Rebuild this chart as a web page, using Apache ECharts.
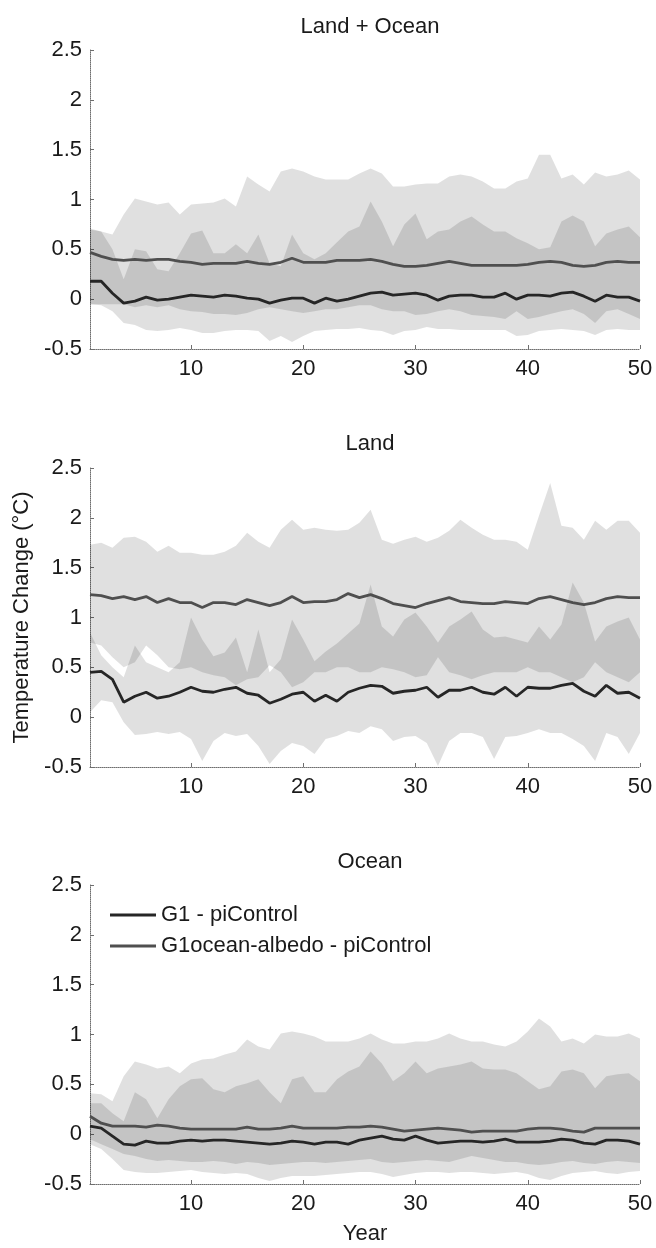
<!DOCTYPE html>
<html>
<head>
<meta charset="utf-8">
<script src="https://cdn.jsdelivr.net/npm/echarts@6/dist/echarts.min.js"></script>
<style>
html, body { margin: 0; padding: 0; background: #fff; }
#main { width: 656px; height: 1248px; }
</style>
</head>
<body>
<div id="main"></div>
<script>
// x positions (model year)
var years = [1,2,3,4,5,6,7,8,9,10,11,12,13,14,15,16,17,18,19,20,21,22,23,24,25,
             26,27,28,29,30,31,32,33,34,35,36,37,38,39,40,41,42,43,44,45,46,47,48,49,50];
var xTicks = [10, 20, 30, 40, 50];
var panelTitles = ['Land + Ocean', 'Land', 'Ocean'];
var seriesNames = ['G1 - piControl', 'G1ocean-albedo - piControl'];

// Land + Ocean
var p1G1 = [0.18,0.18,0.06,-0.04,-0.02,0.02,-0.01,0.00,0.02,0.04, 0.03,0.02,0.04,0.03,0.01,0.00,-0.04,-0.01,0.01,0.01,
            -0.04,0.01,-0.02,0.00,0.03,0.06,0.07,0.04,0.05,0.06, 0.04,-0.01,0.03,0.04,0.04,0.02,0.02,0.06,0.00,0.04,
            0.04,0.03,0.06,0.07,0.03,-0.02,0.04,0.02,0.02,-0.02];
var p1OA = [0.47,0.43,0.40,0.39,0.40,0.39,0.40,0.40,0.38,0.37, 0.35,0.36,0.36,0.36,0.38,0.36,0.35,0.37,0.41,0.37,
            0.37,0.37,0.39,0.39,0.39,0.40,0.38,0.35,0.33,0.33, 0.34,0.36,0.38,0.36,0.34,0.34,0.34,0.34,0.34,0.35,
            0.37,0.38,0.37,0.34,0.33,0.34,0.37,0.38,0.37,0.37];
var p1G1Lo = [-0.05,-0.06,-0.12,-0.24,-0.26,-0.31,-0.32,-0.31,-0.29,-0.31, -0.34,-0.34,-0.32,-0.31,-0.31,-0.32,-0.42,-0.37,-0.43,-0.37,
              -0.32,-0.31,-0.30,-0.30,-0.29,-0.31,-0.32,-0.36,-0.32,-0.31, -0.28,-0.30,-0.30,-0.31,-0.31,-0.31,-0.31,-0.31,-0.37,-0.36,
              -0.32,-0.31,-0.30,-0.31,-0.32,-0.36,-0.31,-0.30,-0.31,-0.31];
var p1G1Hi = [0.70,0.68,0.50,0.20,0.50,0.48,0.30,0.28,0.46,0.66, 0.69,0.46,0.46,0.55,0.46,0.65,0.36,0.33,0.65,0.46,
              0.40,0.46,0.57,0.68,0.73,0.98,0.78,0.53,0.75,0.86, 0.60,0.68,0.70,0.78,0.83,0.75,0.68,0.68,0.61,0.56,
              0.50,0.52,0.78,0.84,0.78,0.53,0.66,0.70,0.73,0.62];
var p1OALo = [-0.05,-0.05,-0.05,-0.05,-0.08,-0.06,-0.08,-0.06,-0.10,-0.12, -0.13,-0.15,-0.15,-0.16,-0.14,-0.10,-0.08,-0.10,-0.12,-0.14,
              -0.12,-0.10,-0.10,-0.08,-0.06,-0.06,-0.10,-0.12,-0.12,-0.16, -0.15,-0.12,-0.10,-0.12,-0.16,-0.17,-0.18,-0.20,-0.12,-0.20,
              -0.18,-0.15,-0.12,-0.10,-0.15,-0.24,-0.12,-0.10,-0.15,-0.20];
var p1OAHi = [0.71,0.68,0.65,0.85,1.01,0.98,0.95,0.97,0.85,0.95, 0.96,0.97,1.01,0.93,1.23,1.15,1.08,1.28,1.31,1.28,
              1.23,1.20,1.20,1.20,1.26,1.31,1.26,1.13,1.13,1.15, 1.16,1.16,1.23,1.25,1.23,1.18,1.11,1.11,1.18,1.21,
              1.45,1.45,1.21,1.25,1.15,1.27,1.23,1.25,1.29,1.20];

// Land
var p2G1 = [0.45,0.46,0.38,0.15,0.21,0.25,0.19,0.21,0.25,0.30, 0.26,0.25,0.28,0.30,0.24,0.22,0.14,0.18,0.23,0.25,
            0.16,0.22,0.16,0.25,0.29,0.32,0.31,0.24,0.26,0.27, 0.30,0.20,0.27,0.27,0.30,0.25,0.23,0.30,0.21,0.30,
            0.29,0.29,0.32,0.34,0.26,0.21,0.32,0.24,0.25,0.19];
var p2OA = [1.23,1.22,1.19,1.21,1.18,1.21,1.15,1.19,1.15,1.15, 1.10,1.15,1.15,1.13,1.18,1.15,1.12,1.15,1.21,1.15,
            1.16,1.16,1.18,1.24,1.20,1.23,1.19,1.14,1.12,1.10, 1.14,1.17,1.20,1.16,1.15,1.14,1.14,1.16,1.15,1.14,
            1.19,1.21,1.18,1.15,1.13,1.15,1.19,1.21,1.20,1.20];
var p2G1Lo = [0.05,0.17,0.15,-0.05,-0.18,-0.17,-0.15,-0.17,-0.15,-0.22, -0.44,-0.24,-0.16,-0.19,-0.17,-0.29,-0.47,-0.34,-0.26,-0.29,
              -0.37,-0.22,-0.19,-0.14,-0.16,-0.09,-0.12,-0.24,-0.20,-0.19, -0.26,-0.49,-0.24,-0.16,-0.16,-0.20,-0.42,-0.20,-0.19,-0.16,
              -0.12,-0.16,-0.16,-0.22,-0.29,-0.44,-0.16,-0.20,-0.37,-0.16];
var p2G1Hi = [0.85,0.62,0.50,0.40,0.72,0.55,0.50,0.45,0.55,1.00, 0.78,0.61,0.65,0.80,0.45,0.88,0.45,0.58,0.98,0.78,
              0.56,0.66,0.74,0.84,0.94,1.33,0.91,0.81,0.98,1.05, 0.91,0.75,0.91,0.98,1.06,0.88,0.80,0.81,0.78,0.75,
              0.91,0.78,0.93,1.35,1.15,0.76,0.91,0.96,1.00,0.78];
var p2OALo = [0.75,0.72,0.60,0.50,0.55,0.72,0.62,0.50,0.48,0.50, 0.45,0.42,0.40,0.32,0.38,0.40,0.52,0.45,0.30,0.35,
              0.45,0.45,0.50,0.50,0.45,0.45,0.50,0.48,0.45,0.40, 0.42,0.60,0.45,0.42,0.38,0.42,0.45,0.45,0.45,0.50,
              0.45,0.45,0.40,0.35,0.40,0.55,0.45,0.40,0.35,0.45];
var p2OAHi = [1.73,1.75,1.70,1.80,1.81,1.76,1.66,1.72,1.65,1.65, 1.63,1.63,1.66,1.72,1.85,1.76,1.70,1.88,1.98,1.88,
              1.90,1.88,1.87,1.88,1.95,2.08,1.78,1.74,1.78,1.81, 1.76,1.80,1.87,1.98,1.90,1.83,1.78,1.78,1.76,1.68,
              2.02,2.35,1.92,1.90,1.78,1.97,1.88,1.97,1.97,1.85];

// Ocean
var p3G1 = [0.08,0.06,-0.02,-0.10,-0.11,-0.07,-0.09,-0.09,-0.07,-0.06, -0.07,-0.06,-0.06,-0.07,-0.08,-0.09,-0.10,-0.09,-0.07,-0.08,
            -0.10,-0.08,-0.08,-0.10,-0.06,-0.04,-0.02,-0.05,-0.06,-0.02, -0.06,-0.09,-0.08,-0.07,-0.07,-0.08,-0.07,-0.05,-0.08,-0.08,
            -0.08,-0.07,-0.05,-0.06,-0.09,-0.10,-0.06,-0.06,-0.07,-0.10];
var p3OA = [0.18,0.11,0.08,0.08,0.08,0.07,0.09,0.08,0.06,0.05, 0.05,0.05,0.05,0.05,0.07,0.05,0.05,0.06,0.08,0.06,
            0.06,0.06,0.06,0.07,0.07,0.08,0.07,0.05,0.03,0.04, 0.05,0.06,0.05,0.04,0.02,0.03,0.03,0.03,0.03,0.05,
            0.06,0.06,0.05,0.03,0.02,0.06,0.06,0.06,0.06,0.06];
var p3G1Lo = [-0.10,-0.15,-0.25,-0.36,-0.38,-0.39,-0.39,-0.38,-0.37,-0.36, -0.38,-0.39,-0.40,-0.39,-0.40,-0.44,-0.47,-0.44,-0.42,-0.42,
              -0.42,-0.41,-0.40,-0.39,-0.38,-0.38,-0.40,-0.43,-0.41,-0.39, -0.38,-0.38,-0.39,-0.38,-0.38,-0.39,-0.40,-0.39,-0.38,-0.40,
              -0.44,-0.46,-0.42,-0.39,-0.38,-0.37,-0.39,-0.40,-0.38,-0.37];
var p3G1Hi = [0.31,0.31,0.21,0.13,0.42,0.35,0.16,0.35,0.48,0.55, 0.56,0.45,0.42,0.48,0.51,0.55,0.42,0.31,0.55,0.58,
              0.42,0.42,0.55,0.63,0.68,0.83,0.71,0.53,0.61,0.73, 0.61,0.66,0.68,0.70,0.73,0.66,0.65,0.65,0.61,0.53,
              0.45,0.48,0.63,0.65,0.61,0.46,0.58,0.60,0.61,0.53];
var p3OALo = [-0.05,-0.10,-0.15,-0.20,-0.22,-0.25,-0.27,-0.26,-0.27,-0.28, -0.28,-0.27,-0.28,-0.30,-0.28,-0.29,-0.31,-0.30,-0.29,-0.28,
              -0.28,-0.29,-0.28,-0.27,-0.26,-0.25,-0.28,-0.29,-0.28,-0.27, -0.26,-0.27,-0.28,-0.25,-0.22,-0.24,-0.26,-0.28,-0.28,-0.30,
              -0.31,-0.30,-0.28,-0.27,-0.29,-0.30,-0.28,-0.27,-0.28,-0.29];
var p3OAHi = [0.41,0.40,0.33,0.58,0.73,0.70,0.66,0.68,0.61,0.71, 0.75,0.76,0.80,0.83,0.95,0.88,0.85,1.01,1.03,1.01,
              0.98,0.93,0.93,0.93,0.96,1.01,0.95,0.91,0.91,0.93, 0.93,0.96,1.01,0.96,0.93,0.93,0.90,0.88,0.93,1.03,
              1.16,1.08,0.93,0.96,0.91,1.00,0.98,0.98,1.01,0.96];

var panels = [
    { g1: p1G1, oa: p1OA, g1Lo: p1G1Lo, g1Hi: p1G1Hi, oaLo: p1OALo, oaHi: p1OAHi },
    { g1: p2G1, oa: p2OA, g1Lo: p2G1Lo, g1Hi: p2G1Hi, oaLo: p2OALo, oaHi: p2OAHi },
    { g1: p3G1, oa: p3OA, g1Lo: p3G1Lo, g1Hi: p3G1Hi, oaLo: p3OALo, oaHi: p3OAHi }
];

var FONT = 'Liberation Sans';
var TXT = '#1a1a1a';
var AXC = '#6e6e6e';
var BAND = 'rgba(0,0,0,0.12)';
var gridTops = [50, 468, 885];
var titleTops = [11, 428, 846];

function pairs(vals) {
    var out = [];
    for (var i = 0; i < years.length; i++) out.push([years[i], vals[i]]);
    return out;
}
function rows(lo, hi) {
    var out = [];
    for (var i = 0; i < years.length; i++) out.push([years[i], lo[i], hi[i]]);
    return out;
}

// whole band drawn as one polygon, top edge then bottom edge back
function renderBand(params, api) {
    if (params.dataIndexInside !== 0) return;
    var n = params.dataInsideLength;
    var top = [], bot = [];
    for (var i = 0; i < n; i++) {
        var x = api.value(0, i);
        top.push(api.coord([x, api.value(2, i)]));
        bot.push(api.coord([x, api.value(1, i)]));
    }
    return {
        type: 'polygon',
        shape: { points: top.concat(bot.reverse()) },
        style: { fill: BAND }
    };
}

var myChart = echarts.init(document.getElementById('main'));

var grids = [], xAxes = [], yAxes = [], titles = [], series = [];

for (var p = 0; p < 3; p++) {
    var d = panels[p];
    grids.push({ left: 90, width: 550, top: gridTops[p], height: 299 });
    titles.push({
        text: panelTitles[p], left: 365, top: titleTops[p], textAlign: 'center',
        textStyle: { fontFamily: FONT, fontSize: 22, fontWeight: 'normal', color: TXT }
    });
    xAxes.push({
        type: 'value', gridIndex: p, min: 1, max: 50,
        name: p === 2 ? 'Year' : '', nameLocation: 'middle', nameGap: 39,
        nameTextStyle: { fontFamily: FONT, fontSize: 22, color: TXT },
        axisLine: { show: true, onZero: false, lineStyle: { color: AXC, type: 'dotted', width: 1 } },
        axisTick: { show: true, inside: true, length: 4, lineStyle: { color: AXC }, customValues: xTicks },
        axisLabel: { fontFamily: FONT, fontSize: 22, color: TXT, margin: 9, customValues: xTicks },
        splitLine: { show: false }
    });
    yAxes.push({
        type: 'value', gridIndex: p, min: -0.5, max: 2.5, interval: 0.5,
        name: p === 1 ? 'Temperature Change (°C)' : '', nameLocation: 'middle', nameGap: 57, nameRotate: 90,
        nameTextStyle: { fontFamily: FONT, fontSize: 22, color: TXT },
        axisLine: { show: true, onZero: false, lineStyle: { color: AXC, type: 'dotted', width: 1 } },
        axisTick: { show: true, inside: true, length: 4, lineStyle: { color: AXC } },
        axisLabel: { fontFamily: FONT, fontSize: 22, color: TXT, margin: 8 },
        splitLine: { show: false }
    });

    series.push({
        name: 'g1band' + p, type: 'custom', xAxisIndex: p, yAxisIndex: p, silent: true,
        renderItem: renderBand, encode: { x: 0, y: [1, 2] }, data: rows(d.g1Lo, d.g1Hi), z: 1
    });
    series.push({
        name: 'oaband' + p, type: 'custom', xAxisIndex: p, yAxisIndex: p, silent: true,
        renderItem: renderBand, encode: { x: 0, y: [1, 2] }, data: rows(d.oaLo, d.oaHi), z: 1
    });
    series.push({
        name: seriesNames[1], type: 'line', xAxisIndex: p, yAxisIndex: p,
        symbol: 'none', silent: true, color: '#4f4f4f',
        lineStyle: { color: '#4f4f4f', width: 2.8 }, data: pairs(d.oa), z: 3
    });
    series.push({
        name: seriesNames[0], type: 'line', xAxisIndex: p, yAxisIndex: p,
        symbol: 'none', silent: true, color: '#262626',
        lineStyle: { color: '#262626', width: 2.8 }, data: pairs(d.g1), z: 4
    });
}

var option = {
    animation: false,
    backgroundColor: '#ffffff',
    title: titles,
    legend: {
        data: seriesNames, orient: 'vertical', left: 105, top: 899,
        icon: 'rect', itemWidth: 46, itemHeight: 3, itemGap: 9,
        textStyle: { fontFamily: FONT, fontSize: 22, color: TXT },
        selectedMode: false
    },
    grid: grids,
    xAxis: xAxes,
    yAxis: yAxes,
    series: series
};

myChart.setOption(option);
</script>
</body>
</html>
